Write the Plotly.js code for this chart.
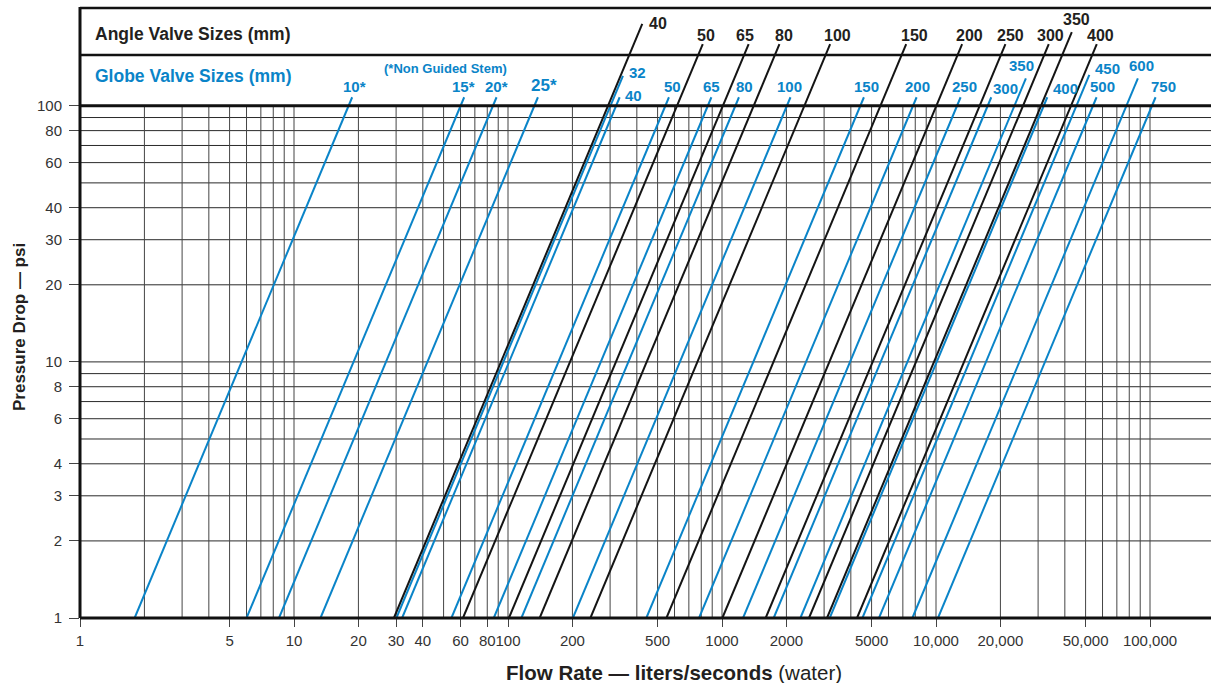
<!DOCTYPE html>
<html><head><meta charset="utf-8">
<script src="https://cdn.plot.ly/plotly-3.0.1.min.js"></script>
<style>html,body{margin:0;padding:0;background:#fff;}#chart{width:1211px;height:683px;}</style>
</head><body><div id="chart"></div>
<script>
// ---------------- DATA ----------------
const angleSizes   = ['40','50','65','80','100','150','200','250','300','350','400'];
const angleFlowAt1 = [29.3, 61.6, 101, 140.6, 242.7, 550, 1004, 1600, 2550, 3095, 4275];
const angleTopFlow = [424, 813, 1332, 1855, 3201, 7255, 13244, 21106, 33637, 43107, 56392];
const angleTopPsi  = [209, 174, 174, 174, 174, 174, 174, 174, 174, 194, 174];

const globeSizes   = ['10*','15*','20*','25*','32','40','50','65','80','100','150','200','250','300','350','400','450','500','600','750'];
const globeFlowAt1 = [1.80, 6.0, 8.51, 13.3, 30.1, 32.0, 54.4, 85.8, 115.5, 201, 443, 781, 1254, 1744, 2325, 3187, 4531, 5415, 7757, 10216];
const globeTopFlow = [18.7, 62.4, 88.4, 138, 344.5, 332.5, 565, 892, 1200, 2089, 4604, 8116, 13032, 18124, 26305, 33119, 52057, 56273, 87763, 106165];
const globeTopPsi  = [108, 108, 108, 108, 131, 108, 108, 108, 108, 108, 108, 108, 108, 108, 128, 108, 132, 108, 128, 108];

const yTickVals = [1, 2, 3, 4, 6, 8, 10, 20, 30, 40, 60, 80, 100];
const yTickText = ['1','2','3','4','6','8','10','20','30','40','60','80','100'];
const xTickVals = [1, 5, 10, 20, 30, 40, 60, 80, 100, 200, 500, 1000, 2000, 5000, 10000, 20000, 50000, 100000];
const xTickText = ['1','5','10','20','30','40','60','80','100','200','500','1000','2000','5000','10,000','20,000','50,000','100,000'];
const yGridVals = [1,2,3,4,5,6,7,8,9,10,20,30,40,50,60,70,80,90,100];
const gridMultipliers = [1,2,3,4,5,6,7,8,9];
const gridDecades = [1, 10, 100, 1000, 10000];

// ---------------- STYLE ----------------
const BLUE = '#0a84c8';
const BLACK = '#141414';
const TXT = '#231f20';
const NARROW = '"Liberation Sans Narrow", "Arial Narrow", "Liberation Sans", Arial, sans-serif';
const SANS = '"Liberation Sans", Arial, Helvetica, sans-serif';

// label placement: [xanchor, yanchor, xshift, yshift]
const angleLabelPos = [
  ['left','middle',5,0],['center','bottom',3,-2],['center','bottom',-4,-2],['center','bottom',5,-2],
  ['center','bottom',7,-2],['center','bottom',8,-2],['center','bottom',7,-2],['center','bottom',5,-2],
  ['center','bottom',2,-2],['center','bottom',5,2],['center','bottom',4,-2]];
const globeLabelPos = [
  ['center','bottom',2,0],['center','bottom',-1,0],['center','bottom',0,0],['center','bottom',6,0],
  ['left','middle',4,3],['left','middle',3,2],['center','bottom',4,0],['center','bottom',0,0],
  ['center','bottom',6,0],['center','bottom',-1,0],['center','bottom',3,0],['center','bottom',1,0],
  ['center','bottom',4,0],['left','middle',0,9],['center','bottom',-4,2],['left','middle',4,9],
  ['left','middle',4,6],['center','bottom',6,0],['center','bottom',4,2],['center','bottom',8,0]];

const traces = [];
globeSizes.forEach((s, i) => traces.push({
  type: 'scatter', mode: 'lines', x: [globeFlowAt1[i], globeTopFlow[i]], y: [1, globeTopPsi[i]],
  line: {color: BLUE, width: 2}, hoverinfo: 'skip', showlegend: false, cliponaxis: false
}));
angleSizes.forEach((s, i) => traces.push({
  type: 'scatter', mode: 'lines', x: [angleFlowAt1[i], angleTopFlow[i]], y: [1, angleTopPsi[i]],
  line: {color: BLACK, width: 2}, hoverinfo: 'skip', showlegend: false, cliponaxis: false
}));

const shapes = [];
const xGridVals = [];
gridDecades.forEach(d => gridMultipliers.forEach(m => xGridVals.push(d * m)));
xGridVals.push(100000);
xGridVals.forEach(v => shapes.push({type: 'line', xref: 'x', yref: 'y', x0: v, x1: v, y0: 1, y1: 100,
  line: {color: '#454545', width: 1}, layer: 'below'}));
yGridVals.forEach(v => shapes.push({type: 'line', xref: 'paper', yref: 'y', x0: 0, x1: 1, y0: v, y1: v,
  line: {color: '#2a2a2a', width: 1}, layer: 'below'}));
// frame
const H = 618; // plot height in px
const py = p => (H - p) / H; // pixel -> paper y
shapes.push({type: 'line', xref: 'paper', yref: 'paper', x0: 0, x1: 1, y0: 0, y1: 0, line: {color: '#111', width: 3}});
shapes.push({type: 'line', xref: 'paper', yref: 'y', x0: 0, x1: 1, y0: 100, y1: 100, line: {color: '#111', width: 3}});
shapes.push({type: 'line', xref: 'paper', yref: 'paper', x0: 0, x1: 1, y0: py(55), y1: py(55), line: {color: '#111', width: 2.5}});
shapes.push({type: 'line', xref: 'paper', yref: 'paper', x0: 0, x1: 1, y0: py(8), y1: py(8), line: {color: '#111', width: 2.5}});
shapes.push({type: 'line', xref: 'paper', yref: 'paper', x0: 0, x1: 0, y0: 0, y1: py(7), line: {color: '#111', width: 3}});

const annotations = [];
angleSizes.forEach((s, i) => {
  const p = angleLabelPos[i];
  annotations.push({xref: 'x', yref: 'y', x: Math.log10(angleTopFlow[i]), y: Math.log10(angleTopPsi[i]),
    text: '<b>' + s + '</b>', showarrow: false, xanchor: p[0], yanchor: p[1], xshift: p[2], yshift: p[3],
    font: {family: NARROW, size: 16, color: TXT}});
});
globeSizes.forEach((s, i) => {
  const p = globeLabelPos[i];
  annotations.push({xref: 'x', yref: 'y', x: Math.log10(globeTopFlow[i]), y: Math.log10(globeTopPsi[i]),
    text: '<b>' + s + '</b>', showarrow: false, xanchor: p[0], yanchor: p[1], xshift: p[2], yshift: p[3],
    font: {family: NARROW, size: s === '25*' ? 17 : 15, color: BLUE}});
});
annotations.push({xref: 'paper', yref: 'paper', x: 13 / 1131, y: py(34), xanchor: 'left', yanchor: 'middle',
  text: '<b>Angle Valve Sizes (mm)</b>', showarrow: false, font: {family: SANS, size: 17.5, color: TXT}});
annotations.push({xref: 'paper', yref: 'paper', x: 13 / 1131, y: py(76), xanchor: 'left', yanchor: 'middle',
  text: '<b>Globe Valve Sizes (mm)</b>', showarrow: false, font: {family: SANS, size: 17.5, color: BLUE}});
annotations.push({xref: 'paper', yref: 'paper', x: (445.5 - 80) / 1131, y: py(68), xanchor: 'center', yanchor: 'middle',
  text: '<b>(*Non Guided Stem)</b>', showarrow: false, font: {family: SANS, size: 13, color: BLUE}});
annotations.push({xref: 'paper', yref: 'paper', x: (19 - 80) / 1131, y: py(327), xanchor: 'center', yanchor: 'middle',
  textangle: -90, text: '<b>Pressure Drop — psi</b>', showarrow: false, font: {family: SANS, size: 17, color: TXT}});
annotations.push({xref: 'paper', yref: 'paper', x: (674 - 80) / 1131, y: py(672), xanchor: 'center', yanchor: 'middle',
  text: '<b>Flow Rate — liters/seconds</b> (water)', showarrow: false, font: {family: SANS, size: 20.5, color: TXT}});

const layout = {
  width: 1211, height: 683,
  margin: {l: 80, r: 0, t: 0, b: 65},
  paper_bgcolor: '#fff', plot_bgcolor: '#fff',
  showlegend: false,
  xaxis: {type: 'log', range: [0, 1131 / 214], tickvals: xTickVals, ticktext: xTickText, tickangle: 0,
    ticks: 'outside', ticklen: 8, tickwidth: 1, tickcolor: '#444', showgrid: false, zeroline: false, showline: false,
    ticklabelstandoff: 1, tickfont: {family: NARROW, size: 15, color: '#333'}},
  yaxis: {type: 'log', range: [0, 618 / 256.1], tickvals: yTickVals, ticktext: yTickText, tickangle: 0,
    ticks: 'outside', ticklen: 10, tickwidth: 1, tickcolor: '#444', showgrid: false, zeroline: false, showline: false,
    ticklabelstandoff: 4, tickfont: {family: NARROW, size: 15, color: '#333'}},
  shapes: shapes,
  annotations: annotations
};
Plotly.newPlot('chart', traces, layout, {staticPlot: true, displayModeBar: false});
</script>
</body></html>
